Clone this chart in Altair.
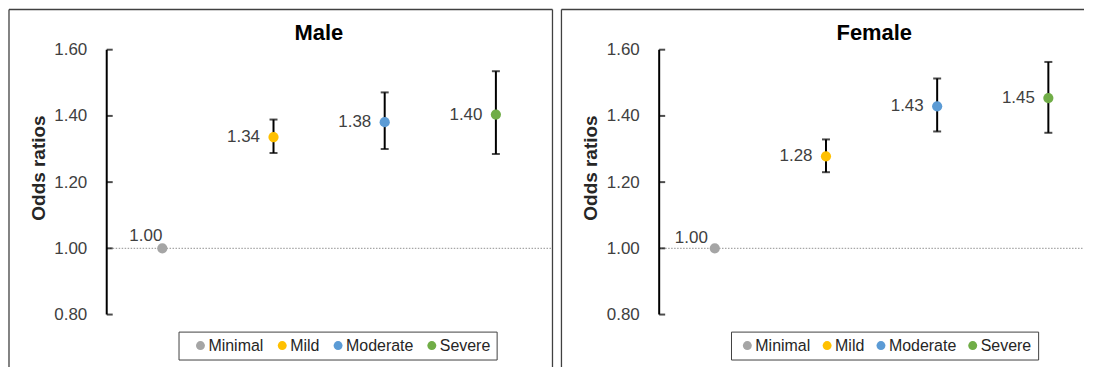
import altair as alt
import pandas as pd

categories = ["Minimal", "Mild", "Moderate", "Severe"]
colors = ["#a5a5a5", "#ffc000", "#5b9bd5", "#70ad47"]

male_or = [1.00, 1.336, 1.381, 1.404]
male_lo = [None, 1.288, 1.300, 1.285]
male_hi = [None, 1.389, 1.471, 1.535]

female_or = [1.00, 1.278, 1.429, 1.454]
female_lo = [None, 1.230, 1.353, 1.349]
female_hi = [None, 1.329, 1.513, 1.563]

y_ticks = [0.80, 1.00, 1.20, 1.40, 1.60]
reference_value = 1.00

FONT = "Liberation Sans"
H = 363
STEP = 111.5          # px per category band
AXIS_PX = 98          # y axis position inside the panel
FRAME = "#404040"


def panel(title, ors, los, his, width, title_dx, min_dx, min_dy, legend_extra, col_pad, right_edge):
    df = pd.DataFrame({"cat": categories, "pos": list(range(len(categories))),
                       "or": ors, "lo": los, "hi": his})
    df_ticks = pd.DataFrame({"t": y_ticks})
    df_axis = pd.DataFrame({"a": [y_ticks[0]], "b": [y_ticks[-1]], "ref": [reference_value]})

    x0 = -0.5 - AXIS_PX / STEP
    xs = alt.Scale(domain=[x0, x0 + width / STEP], nice=False, zero=False)
    ys = alt.Scale(domain=[0.628, 1.7214], nice=False, zero=False)
    yaxis = alt.Axis(offset=-AXIS_PX, domain=False, ticks=False, grid=False,
                     values=y_ticks, format=".2f", labelPadding=20,
                     labelFont=FONT, labelFontSize=17, labelColor="#404040",
                     title="Odds ratios", titleFont=FONT, titleFontSize=19,
                     titleFontWeight="bold", titleColor="#262626",
                     titleX=-62.5, titleY=158.5, titleBaseline="alphabetic",
                     titleAngle=-90)

    def Y(field):
        return alt.Y(field, scale=ys, axis=yaxis)

    X = alt.X("pos:Q", scale=xs, axis=None)
    base = alt.Chart(df)
    axis_base = alt.Chart(df_axis)

    # panel frame (decoration)
    frame_layers = [
        axis_base.mark_rule(color=FRAME, strokeWidth=1.3).encode(
            x=alt.value(0), x2=alt.value(width), y=alt.value(0)),
        axis_base.mark_rule(color=FRAME, strokeWidth=1.3).encode(
            x=alt.value(0), y=alt.value(0), y2=alt.value(H)),
        axis_base.mark_rule(color=FRAME, strokeWidth=1.3).encode(
            x=alt.value(0), x2=alt.value(width), y=alt.value(H)),
    ]
    if right_edge:
        frame_layers.append(axis_base.mark_rule(color=FRAME, strokeWidth=1.3).encode(
            x=alt.value(width), y=alt.value(0), y2=alt.value(H)))

    refline = axis_base.mark_rule(color="#a6a6a6", strokeWidth=1.3, strokeDash=[1.5, 1.5],
                                  clip=True).encode(
        x=alt.X(datum=-0.5, scale=xs, axis=None),
        x2=alt.X2(datum=len(categories) - 0.5),
        y=Y("ref:Q"),
    )
    err = base.transform_filter("isValid(datum.lo)")
    errline = err.mark_rule(color="black", strokeWidth=2).encode(x=X, y=Y("lo:Q"), y2="hi:Q")
    cap_lo = err.mark_tick(color="black", orient="horizontal", size=8, thickness=2).encode(x=X, y=Y("lo:Q"))
    cap_hi = err.mark_tick(color="black", orient="horizontal", size=8, thickness=2).encode(x=X, y=Y("hi:Q"))

    legend = alt.Legend(title=" ", titleOrient="left", titleFontSize=1, titlePadding=legend_extra,
                        orient="none", legendX=170, legendY=323, direction="horizontal",
                        padding=6, strokeColor=FRAME, fillColor="white",
                        symbolType="circle", symbolSize=80, symbolStrokeWidth=0,
                        labelFont=FONT, labelFontSize=16, labelColor="#262626",
                        labelOffset=0, columnPadding=col_pad, labelLimit=300)
    points = base.mark_circle(size=105, opacity=1).encode(
        x=X, y=Y("or:Q"),
        color=alt.Color("cat:N", scale=alt.Scale(domain=categories, range=colors), legend=legend),
    )
    labels = base.transform_filter("datum.pos > 0").mark_text(
        align="right", baseline="middle", dx=-13.5, font=FONT, fontSize=17, color="#404040"
    ).encode(x=X, y=Y("or:Q"), text=alt.Text("or:Q", format=".2f"))
    min_label = base.transform_filter("datum.pos == 0").mark_text(
        align="right", baseline="alphabetic", dx=min_dx, dy=min_dy, font=FONT, fontSize=17, color="#404040"
    ).encode(x=X, y=Y("or:Q"), text=alt.Text("or:Q", format=".2f"))

    axis_line = axis_base.mark_rule(color="black", strokeWidth=2).encode(
        x=alt.X(datum=-0.5, scale=xs, axis=None), y=Y("a:Q"), y2="b:Q")
    axis_ticks = alt.Chart(df_ticks).mark_tick(color="black", orient="horizontal", size=6,
                                               thickness=2, xOffset=3).encode(
        x=alt.X(datum=-0.5, scale=xs, axis=None), y=Y("t:Q"))

    return alt.layer(*frame_layers, refline, errline, cap_lo, cap_hi, points, labels, min_label,
                     axis_line, axis_ticks).properties(
        width=width, height=H,
        title=alt.TitleParams(text=title, font=FONT, fontSize=22, fontWeight="bold",
                              color="black", anchor="middle", dx=title_dx,
                              offset=-53, baseline="alphabetic"),
    )


male = panel("Male", male_or, male_lo, male_hi, 545, 38.2, 0, -7.6, 8, 10, True)
female = panel("Female", female_or, female_lo, female_hi, 524, 51.7, -7, -5, 2.4, 8, False)

chart = alt.hconcat(male, female, spacing=7).resolve_scale(color="independent").resolve_legend(
    color="independent").configure_view(stroke=None).properties(
    padding={"left": 0, "top": 0, "right": 0, "bottom": 0})

chart.save("out.html", embed_options={"renderer": "svg", "actions": False})
